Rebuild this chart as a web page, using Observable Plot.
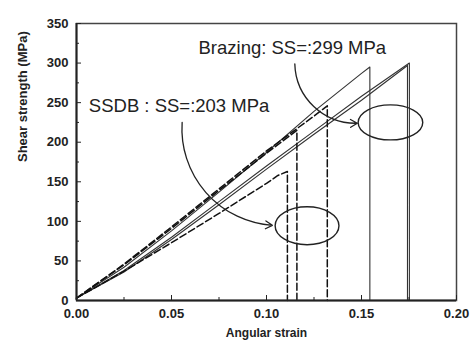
<!DOCTYPE html>
<html><head><meta charset="utf-8">
<script src="https://cdn.jsdelivr.net/npm/d3@7"></script>
<script src="https://cdn.jsdelivr.net/npm/@observablehq/plot@0.6"></script>
<style>body{margin:0;background:#fff}#chart{width:470px;height:345px}</style>
</head><body><div id="chart"></div>
<script>
// Axis ticks
const xTicks = [0, 0.05, 0.10, 0.15, 0.20];
const xTickLabels = ["0.00", "0.05", "0.10", "0.15", "0.20"];
const xMinorTicks = [0.025, 0.075, 0.125, 0.175];
const yTicks = [0, 50, 100, 150, 200, 250, 300, 350];
const yTickLabels = ["0", "50", "100", "150", "200", "250", "300", "350"];
const yMinorTicks = [25, 75, 125, 175, 225, 275, 325];
const xLabel = "Angular strain";
const yLabel = "Shear strength (MPa)";

// Brazing specimens (solid lines)
const brazing1Strain = [0, 0.025, 0.05, 0.075, 0.1, 0.125, 0.15, 0.1544, 0.1544];
const brazing1Stress = [3, 42, 88, 137, 187, 239, 287, 295, 0];
const brazing2Strain = [0, 0.025, 0.05, 0.075, 0.1, 0.125, 0.15, 0.1752, 0.1752];
const brazing2Stress = [3, 38, 80, 125, 170, 214, 258, 300, 0];
const brazing3Strain = [0, 0.025, 0.05, 0.075, 0.1, 0.125, 0.15, 0.1742, 0.1742];
const brazing3Stress = [3, 36, 77, 121, 166, 210, 253, 297, 0];

// SSDB specimens (dashed lines)
const ssdb1Strain = [0, 0.025, 0.05, 0.075, 0.1, 0.106, 0.111, 0.111];
const ssdb1Stress = [3, 37, 73, 110, 148, 158, 163, 0];
const ssdb2Strain = [0, 0.025, 0.05, 0.075, 0.1, 0.116, 0.116];
const ssdb2Stress = [3, 45, 91, 139, 186, 215, 0];
const ssdb3Strain = [0, 0.025, 0.05, 0.075, 0.1, 0.125, 0.132, 0.132];
const ssdb3Stress = [3, 46, 93, 141, 189, 233, 246, 0];

// Annotations (data units)
const noteTexts = ["Brazing: SS=:299 MPa", "SSDB : SS=:203 MPa"];
const noteX = [0.0642, 0.0065];
const noteY = [319, 246];
const arrowX1 = [0.1149, 0.0556];
const arrowY1 = [299, 225];
const arrowX2 = [0.1478, 0.1031];
const arrowY2 = [224, 95];
const ellipseCx = [0.1655, 0.1216];
const ellipseCy = [224.4, 93.8];
const ellipseRx = [0.0170, 0.0168];
const ellipseRy = [22.1, 24.0];

function toRows(name, xs, ys) { return xs.map((x, i) => ({series: name, strain: x, stress: ys[i]})); }
const solidRows = [
  ...toRows("B1", brazing1Strain, brazing1Stress),
  ...toRows("B2", brazing2Strain, brazing2Stress),
  ...toRows("B3", brazing3Strain, brazing3Stress)
];
const dashedRows = [
  ...toRows("S1", ssdb1Strain, ssdb1Stress),
  ...toRows("S2", ssdb2Strain, ssdb2Stress),
  ...toRows("S3", ssdb3Strain, ssdb3Stress)
];
const notes = noteTexts.map((t, i) => ({t, x: noteX[i], y: noteY[i]}));
const arrows = arrowX1.map((d, i) => ({x1: d, y1: arrowY1[i], x2: arrowX2[i], y2: arrowY2[i]}));

const ink = "#222";
const plot = Plot.plot({
  width: 470, height: 345,
  marginLeft: 76, marginRight: 14, marginTop: 23, marginBottom: 45,
  x: {domain: [0, 0.2]},
  y: {domain: [0, 350]},
  style: {fontFamily: "'Liberation Sans', Arial, sans-serif", background: "#fff", color: ink},
  marks: [
    Plot.line(solidRows, {x: "strain", y: "stress", z: "series", stroke: "#333", strokeWidth: 1.1}),
    Plot.line(dashedRows, {x: "strain", y: "stress", z: "series", stroke: "#111", strokeWidth: 1.5, strokeDasharray: "7,3"}),
    (index, scales) => {
      const g = d3.create("svg:g");
      ellipseCx.forEach((cx, i) => {
        const px = scales.x(cx), py = scales.y(ellipseCy[i]);
        g.append("ellipse")
          .attr("cx", px).attr("cy", py)
          .attr("rx", Math.abs(scales.x(cx + ellipseRx[i]) - px))
          .attr("ry", Math.abs(scales.y(ellipseCy[i] + ellipseRy[i]) - py))
          .attr("fill", "none").attr("stroke", ink).attr("stroke-width", 1.4);
      });
      return g.node();
    },
    Plot.arrow(arrows, {x1: "x1", y1: "y1", x2: "x2", y2: "y2", bend: -45, stroke: ink, strokeWidth: 1.3, headLength: 9}),
    Plot.text(notes, {x: "x", y: "y", text: "t", textAnchor: "start", lineAnchor: "middle", fontSize: 18.5, fill: ink}),
    Plot.frame({stroke: "#444", strokeWidth: 1.5}),
    Plot.ruleX([0], {stroke: ink, strokeWidth: 2}),
    Plot.ruleY([0], {stroke: ink, strokeWidth: 2}),
    Plot.axisX(xMinorTicks, {tickSize: -3, tickFormat: () => "", label: null, color: ink}),
    Plot.axisX(xTicks, {tickSize: -5, tickPadding: 13, tickFormat: d => xTickLabels[xTicks.indexOf(d)], fontSize: 13, fontWeight: "bold", label: null, color: ink}),
    Plot.axisY(yMinorTicks, {tickSize: -3, tickFormat: () => "", label: null, color: ink}),
    Plot.axisY(yTicks, {tickSize: -5, tickPadding: 13, tickFormat: d => yTickLabels[yTicks.indexOf(d)], fontSize: 13, fontWeight: "bold", label: null, color: ink}),
    Plot.text([xLabel], {frameAnchor: "bottom", dy: 36, text: d => d, fontSize: 12, fontWeight: "bold", fill: ink}),
    Plot.text([yLabel], {frameAnchor: "left", dx: -54, rotate: -90, text: d => d, fontSize: 13, fontWeight: "bold", fill: ink})
  ]
});
document.getElementById("chart").appendChild(plot);
</script>
</body></html>
